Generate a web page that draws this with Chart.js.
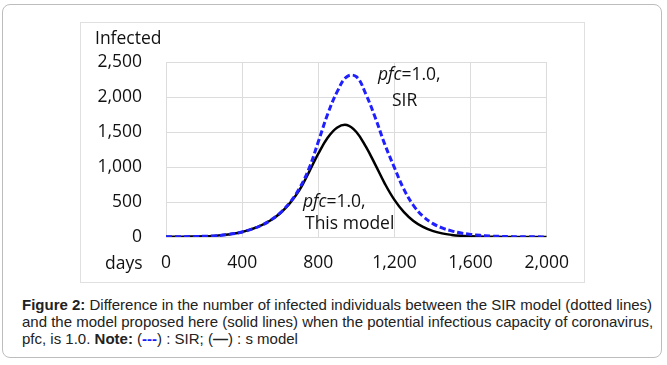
<!DOCTYPE html>
<html><head><meta charset="utf-8">
<script src="https://cdn.jsdelivr.net/npm/chart.js@4.4.1/dist/chart.umd.min.js"></script>
<style>
html,body{margin:0;padding:0;background:#fff;width:667px;height:365px;overflow:hidden}
#outer{position:absolute;left:2px;top:4px;width:660px;height:354px;border:1px solid #bdbdbd;border-radius:8px;box-sizing:border-box}
#inner{position:absolute;left:80px;top:22px;width:505px;height:261px;border:1px solid #e0e0e0;box-sizing:border-box}
#wrap{position:absolute;left:80px;top:22px;width:505px;height:261px}
#cap{position:absolute;left:22px;top:296px;font-family:"Liberation Sans",Arial,sans-serif;font-size:15px;line-height:17px;color:#222;white-space:nowrap}
</style></head><body>
<div id="outer"></div>
<div id="inner"></div>
<div id="wrap"><canvas id="c" width="505" height="261"></canvas></div>
<div id="cap"><b>Figure 2:</b> Difference in the number of infected individuals between the SIR model (dotted lines)<br>and the model proposed here (solid lines) when the potential infectious capacity of coronavirus,<br>pfc, is 1.0. <b>Note:</b> (<b style="color:#1a1aff">---</b>) : SIR; (<b>—</b>) : s model</div>
<script>
const days = [0,50,100,150,200,250,300,350,400,450,500,550,600,650,700,750,800,850,900,950,1000,1050,1100,1150,1200,1250,1300,1350,1400,1450,1500,1550,1600,1650,1700,1750,1800,1850,1900,1950,2000];
const sirInfected = [3,4,5,7,10,16,27,45,72,112,165,240,345,490,690,970,1360,1760,2080,2290,2290,2040,1700,1320,990,680,450,295,195,130,88,57,37,24,15,9,6,4,3,2,1];
const modelInfected = [3,4,5,7,10,16,27,45,72,112,165,240,340,480,665,920,1190,1420,1565,1600,1500,1290,1030,760,530,355,230,145,88,52,30,17,10,6,3,2,1,1,0,0,0];
const xTicks = [0,400,800,1200,1600,2000];
const yTicks = [0,500,1000,1500,2000,2500];
const labelFont = '"Open Sans","Lato",sans-serif';
const fs = 17.5;

const toPts = arr => days.map((d,i)=>({x:d,y:arr[i]}));

const textPlugin = {
  id:'texts',
  afterDraw(chart){
    const ctx = chart.ctx, a = chart.chartArea;
    ctx.save();
    ctx.fillStyle = '#111';
    ctx.textBaseline = 'middle';
    ctx.font = fs + 'px ' + labelFont;
    ctx.textAlign = 'left';
    ctx.fillText('Infected', 15, 17);
    ctx.fillText('days', 25, a.bottom + 27);
    const drawPfc = (x,y) => {
      ctx.font = 'italic ' + fs + 'px ' + labelFont;
      ctx.fillText('pfc', x, y);
      const w = ctx.measureText('pfc').width;
      ctx.font = fs + 'px ' + labelFont;
      ctx.fillText('=1.0,', x + w, y);
    };
    drawPfc(a.left + 212, 53);
    ctx.fillText('SIR', a.left + 226, 79);
    drawPfc(a.left + 137, 180);
    ctx.fillText('This model', a.left + 139, 202);
    ctx.restore();
  }
};

new Chart(document.getElementById('c'), {
  type:'line',
  data:{datasets:[
    {label:'SIR', data:toPts(sirInfected), borderColor:'#1f1fff', borderWidth:3, borderDash:[6,3], pointRadius:0, tension:0.4, fill:false},
    {label:'This model', data:toPts(modelInfected), borderColor:'#000', borderWidth:2.5, pointRadius:0, tension:0.4, fill:false}
  ]},
  options:{
    responsive:false, animation:false,
    layout:{padding:{top:40,right:35,left:0,bottom:0}},
    plugins:{legend:{display:false}, tooltip:{enabled:false}},
    scales:{
      x:{type:'linear', min:0, max:2000,
        afterBuildTicks(s){ s.ticks = xTicks.map(v=>({value:v})); },
        afterFit(s){ s.height = 46; },
        grid:{color:'#dcdcdc', lineWidth:1, drawTicks:false},
        border:{display:false},
        ticks:{padding:16, color:'#111', maxRotation:0, font:{family:labelFont,size:fs}, callback:v=>v.toLocaleString('en-US')}
      },
      y:{min:0, max:2500,
        afterBuildTicks(s){ s.ticks = yTicks.map(v=>({value:v})); },
        afterFit(s){ s.width = 86; },
        grid:{color:'#dcdcdc', lineWidth:1, drawTicks:false},
        border:{display:false},
        ticks:{padding:24, color:'#111', font:{family:labelFont,size:fs}, callback:v=>v.toLocaleString('en-US')}
      }
    }
  },
  plugins:[textPlugin]
});
</script>
</body></html>
